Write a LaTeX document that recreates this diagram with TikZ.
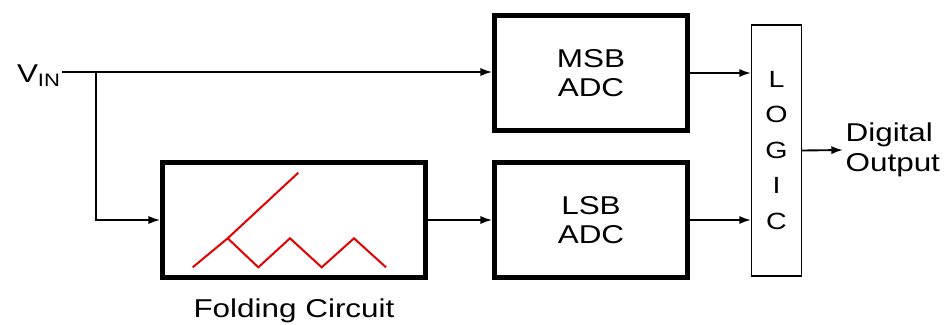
\documentclass[tikz,border=0pt]{standalone}
\usepackage{fontspec}
\setmainfont{Liberation Sans}[FakeStretch=1.22]
\usetikzlibrary{positioning, arrows.meta}

\tikzset{
	block/.style={draw, line width=4pt, minimum width=5.79cm, minimum height=3.45cm, align=center, font=\fontsize{22}{25}\selectfont},
	wire/.style={line width=1.6pt, ->, >={Latex[length=10pt, width=7pt]}},
	fold/.style={red!90!black, line width=1.7pt}
}

\begin{document}
\begin{tikzpicture}[x=0.03cm, y=-0.03cm]

	\useasboundingbox (0,0) rectangle (949,324);

	\node[block] (msb) at (591,73) {MSB\\ADC};
	\node[block] (lsb) at (591,220) {LSB\\ADC};
	\node[block, minimum width=7.89cm] (folder) at (294,220) {};
	\node[draw, line width=1.2pt, minimum width=1.49cm, minimum height=7.53cm, align=center,
		font=\fontsize{20}{30.3}\selectfont] (logic) at (776.5,150.5) {L\\O\\G\\I\\C};

	\node[font=\fontsize{22}{25}\selectfont, anchor=east, inner sep=1pt] (vin) at (62,76) {V\textsubscript{IN}};
	\node[below=0.45cm of folder, font=\fontsize{22}{25}\selectfont] (cap) {Folding Circuit};
	\node[anchor=west, align=left, inner sep=2pt, font=\fontsize{22}{26}\selectfont] (out) at (843,150) {Digital\\Output};

	\coordinate (split) at (96,72);

	% input and the branch down to the folder
	\draw[wire] (vin.east |- split) -- (split) -- (msb.west |- split);
	\draw[wire] (split) |- (folder.west);
	\draw[wire] (folder.east) -- (lsb.west);
	\draw[wire] (msb.east) -- (msb.east -| logic.west);
	\draw[wire] (lsb.east) -- (lsb.east -| logic.west);
	\draw[wire] (logic.east) -- (out.west);

	% folding characteristic
	\draw[fold] (192.7,267.3) -- (227.7,238.3) -- (298.3,172.7);
	\draw[fold] (227.7,238.3) -- (258.3,267.3) -- (290,238.3) -- (321.7,267.3)
		-- (354,238.3) -- (386,267.3);

\end{tikzpicture}
\end{document}
